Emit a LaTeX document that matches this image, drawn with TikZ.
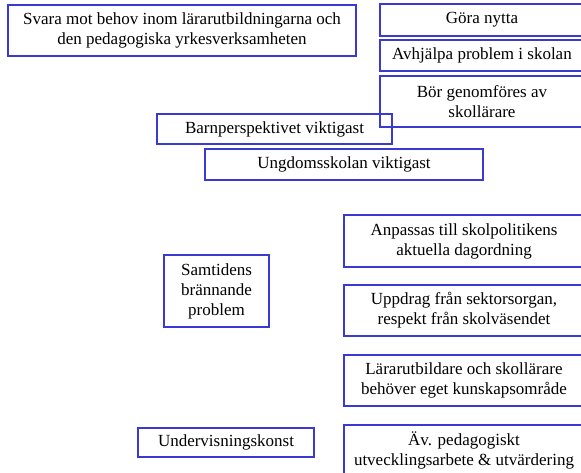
\documentclass[tikz,border=0pt]{standalone}
\usepackage{fontspec}
\setmainfont{Liberation Serif}
\usetikzlibrary{positioning}
\definecolor{boxblue}{RGB}{58,58,210}

\begin{document}
\begin{tikzpicture}[x=1pt,y=-1pt,font=\fontsize{17}{20}\selectfont]
        \tikzstyle{box}=[rectangle,draw=boxblue,line width=1.4pt,align=center,inner sep=0pt]
        \tikzstyle{thickbox}=[box,line width=2.8pt]
        \useasboundingbox (0,0) rectangle (581,473);
        \node[box,minimum width=348pt,minimum height=51pt] (svara) at (182,30.5) {Svara mot behov inom lärarutbildningarna och\\den pedagogiska yrkesverksamheten};
        \node[box,minimum width=204pt,minimum height=32pt] (nytta) at (482,20) {Göra nytta};
        \node[box,minimum width=204pt,minimum height=31pt] (avhjalpa) at (482,55.5) {Avhjälpa problem i skolan};
        \node[box,minimum width=204pt,minimum height=51pt] (skollarare) at (482,101.5) {Bör genomföres av\\skollärare};
        \node[box,minimum width=235pt,minimum height=30pt] (barn) at (274.5,129) {Barnperspektivet viktigast};
        \node[box,minimum width=278pt,minimum height=31pt] (ungdom) at (344,164.5) {Ungdomsskolan viktigast};
        \node[box,minimum width=240pt,minimum height=52pt] (anpassas) at (464,241) {Anpassas till skolpolitikens\\aktuella dagordning};
        \node[box,minimum width=105pt,minimum height=72pt] (samtid) at (216.5,291) {Samtidens\\brännande\\problem};
        \node[box,minimum width=240pt,minimum height=51pt] (uppdrag) at (464,310.5) {Uppdrag från sektorsorgan,\\respekt från skolväsendet};
        \node[box,minimum width=240pt,minimum height=51pt] (omrade) at (464,380.5) {Lärarutbildare och skollärare\\behöver eget kunskapsområde};
        \node[thickbox,minimum width=176pt,minimum height=29pt] (konst) at (226,442.5) {Undervisningskonst};
        \node[box,minimum width=240pt,minimum height=51pt] (utveckling) at (464,450.5) {Äv. pedagogiskt\\utvecklingsarbete \& utvärdering};
    \end{tikzpicture}
\end{document}
